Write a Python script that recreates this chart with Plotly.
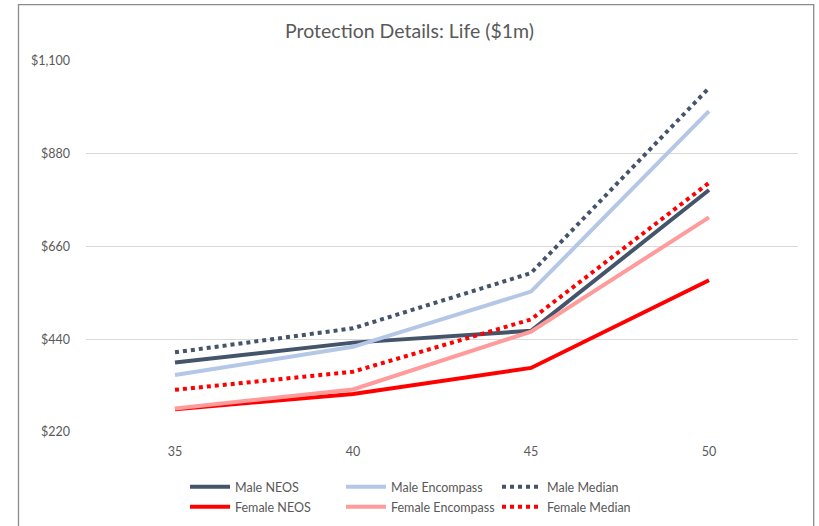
import plotly.graph_objects as go

ages = ["35", "40", "45", "50"]
male_neos = [385, 432, 460, 794]
male_encompass = [355, 422, 553, 981]
male_median = [409, 466, 597, 1036]
female_neos = [274, 310, 372, 580]
female_encompass = [276, 321, 458, 729]
female_median = [320, 363, 487, 811]
y_ticks = [220, 440, 660, 880, 1100]
y_tick_labels = ["$220", "$440", "$660", "$880", "$1,100"]

series = [
    ("Male NEOS", male_neos, "#44546A", "solid", "legend"),
    ("Male Encompass", male_encompass, "#B4C7E7", "solid", "legend"),
    ("Male Median", male_median, "#44546A", "dot", "legend"),
    ("Female NEOS", female_neos, "#FF0000", "solid", "legend2"),
    ("Female Encompass", female_encompass, "#FF9B9B", "solid", "legend2"),
    ("Female Median", female_median, "#FF0000", "dot", "legend2"),
]

fig = go.Figure()
for name, vals, color, dash, leg in series:
    fig.add_trace(go.Scatter(
        x=ages, y=vals, name=name, mode="lines",
        line=dict(color=color, width=4, dash=dash),
        legend=leg,
    ))

font = "Lato, 'Open Sans', sans-serif"
gray = "#595959"
L, R, T, B = 86, 21, 61, 94
W, H = 819, 526
pw = W - L - R
ph = H - T - B

legend_common = dict(
    orientation="h", xanchor="left", yanchor="middle",
    font=dict(family=font, size=12.5, color=gray),
    entrywidth=101, entrywidthmode="pixels",
    bgcolor="rgba(0,0,0,0)", borderwidth=0, itemwidth=40,
)

fig.update_layout(
    width=W, height=H,
    margin=dict(l=L, r=R, t=T, b=B, autoexpand=False),
    paper_bgcolor="white", plot_bgcolor="white",
    title=dict(text="Protection Details: Life ($1m)", x=0.5, xanchor="center",
               y=1 - 31 / H, yanchor="middle",
               font=dict(family=font, size=19.5, color=gray)),
    xaxis=dict(type="category", range=[-0.5, 3.5], showgrid=False, showline=False,
               zeroline=False, automargin=False,
               tickfont=dict(family=font, size=12.5, color=gray),
               ticks="", ticklabelstandoff=10),
    yaxis=dict(range=[220, 1100], tickvals=y_ticks, ticktext=y_tick_labels,
               showgrid=True, gridcolor="#D9D9D9", gridwidth=1, zeroline=False,
               showline=False, ticks="", automargin=False,
               tickfont=dict(family=font, size=12.5, color=gray),
               ticklabelstandoff=15),
    legend=dict(x=(185 - L) / pw, y=(T + ph - 487) / ph, **legend_common),
    legend2=dict(x=(185 - L) / pw, y=(T + ph - 507) / ph, **legend_common),
    shapes=[dict(type="path", xref="paper", yref="paper",
                 path=f"M {(18.5 - L) / pw},-0.4 "
                      f"L {(18.5 - L) / pw},{1 + (T - 4.7) / ph} "
                      f"L {(813.7 - L) / pw},{1 + (T - 4.7) / ph} "
                      f"L {(813.7 - L) / pw},-0.4",
                 line=dict(color="#8C8C8C", width=1.3))],
)

fig.write_html("out.html", config={"displayModeBar": False},
               post_script="document.body.style.margin='0';")
